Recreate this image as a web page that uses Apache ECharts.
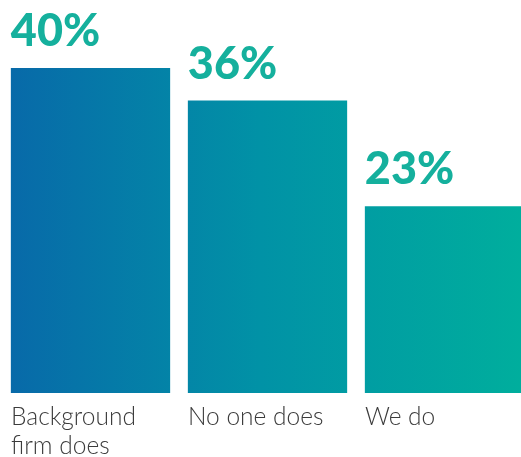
<!DOCTYPE html>
<html>
<head>
<meta charset="utf-8">
<script src="https://cdn.jsdelivr.net/npm/echarts@6/dist/echarts.min.js"></script>
<style>
  html, body { margin: 0; padding: 0; background: #ffffff; }
  #chart { width: 521px; height: 457px; }
</style>
</head>
<body>
<div id="chart"></div>
<script>
// Who handles background checks (share of respondents, %)
const categories = ['Background\nfirm does', 'No one does', 'We do'];
const shares = [40, 36, 23];

const chart = echarts.init(document.getElementById('chart'), null, { renderer: 'canvas' });

// One gradient running across the whole plot, blue on the left to teal on the right
const barFill = new echarts.graphic.LinearGradient(0, 0, 521, 0, [
  { offset: 0, color: '#0868a9' },
  { offset: 0.5, color: '#0192a6' },
  { offset: 1, color: '#00ae9d' }
], true);

chart.setOption({
  animation: false,
  // the plot runs a little past the right edge, so the last bar is cut off
  grid: { left: 2, width: 531, top: 68, bottom: 64, containLabel: false, outerBoundsMode: 'none' },
  xAxis: {
    type: 'category',
    data: categories,
    axisLine: { show: false },
    axisTick: { show: false },
    axisLabel: {
      interval: 0,
      margin: 10,
      formatter: v => v.split('\n').map(s => '{c|' + s + '}').join('\n'),
      rich: {
        c: {
          width: 159,
          align: 'left',
          fontFamily: 'Lato',
          fontWeight: 300,
          fontSize: 24.5,
          lineHeight: 29,
          color: '#3b3b3b'
        }
      }
    }
  },
  yAxis: {
    type: 'value',
    min: 0,
    max: 40,
    show: false,
    splitLine: { show: false }
  },
  series: [{
    type: 'bar',
    data: shares,
    barCategoryGap: '10%',
    itemStyle: { color: barFill },
    label: {
      show: true,
      position: [0, -14],
      align: 'left',
      verticalAlign: 'bottom',
      formatter: p => p.value + '%',
      fontFamily: 'Lato',
      fontWeight: 900,
      fontSize: 45,
      lineHeight: 45,
      color: '#15b09d'
    }
  }]
});
</script>
</body>
</html>
